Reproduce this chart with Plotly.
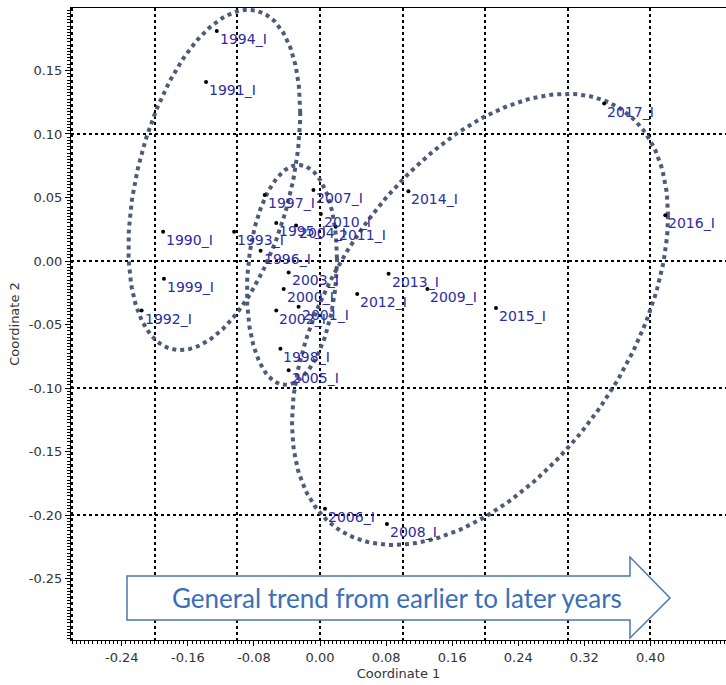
import numpy as np
import plotly.graph_objects as go

# ---- data ----
labels = ["1990_I", "1991_I", "1992_I", "1993_I", "1994_I", "1995_I", "1996_I", "1997_I",
          "1998_I", "1999_I", "2000_I", "2001_I", "2002_I", "2003_I", "2004_I", "2005_I",
          "2006_I", "2007_I", "2008_I", "2009_I", "2010_I", "2011_I", "2012_I", "2013_I",
          "2014_I", "2015_I", "2016_I", "2017_I"]
coord1 = [-0.190, -0.138, -0.216, -0.104, -0.125, -0.053, -0.072, -0.067,
          -0.048, -0.189, -0.044, -0.026, -0.053, -0.038, -0.029, -0.038,
          0.006, -0.008, 0.081, 0.130, 0.001, 0.019, 0.045, 0.083,
          0.107, 0.213, 0.418, 0.344]
coord2 = [0.023, 0.141, -0.039, 0.023, 0.181, 0.030, 0.008, 0.052,
          -0.069, -0.014, -0.022, -0.036, -0.039, -0.009, 0.028, -0.086,
          -0.195, 0.056, -0.207, -0.022, 0.037, 0.027, -0.026, -0.010,
          0.055, -0.037, 0.036, 0.124]

# ellipses: center x, center y, half-extent x, half-extent y, correlation
ell_cx = [-0.128, -0.034, 0.1937]
ell_cy = [0.0638, -0.011, -0.046]
ell_sx = [0.104, 0.0545, 0.2276]
ell_sy = [0.134, 0.0866, 0.1776]
ell_rho = [0.395, 0.15, 0.46]

x_ticks = [-0.24, -0.16, -0.08, 0.00, 0.08, 0.16, 0.24, 0.32, 0.40]
y_ticks = [-0.25, -0.20, -0.15, -0.10, -0.05, 0.00, 0.05, 0.10, 0.15]
x_range = [-0.3015, 0.4915]
y_range = [-0.2984, 0.1992]

arrow_text = "General trend from earlier to later years"

fig = go.Figure()

# ellipses
t = np.linspace(0, 2 * np.pi, 240)
for cx, cy, sx, sy, rho in zip(ell_cx, ell_cy, ell_sx, ell_sy, ell_rho):
    ex = cx + sx * np.cos(t)
    ey = cy + sy * (rho * np.cos(t) + np.sqrt(1 - rho ** 2) * np.sin(t))
    fig.add_trace(go.Scatter(x=ex, y=ey, mode="lines",
                             line=dict(color="#4d5b78", width=4, dash="dot"),
                             hoverinfo="skip", showlegend=False))

# points
fig.add_trace(go.Scatter(x=coord1, y=coord2, mode="markers",
                         marker=dict(color="black", size=4),
                         showlegend=False))

# invisible trace on overlay axes (grid at 0.1 steps)
fig.add_trace(go.Scatter(x=[x_range[0]], y=[y_range[0]], xaxis="x2", yaxis="y2",
                         mode="markers", marker=dict(opacity=0), hoverinfo="skip",
                         showlegend=False))

for lab, xv, yv in zip(labels, coord1, coord2):
    fig.add_annotation(x=xv, y=yv, text=lab, showarrow=False,
                       xanchor="left", yanchor="top", xshift=1, yshift=2,
                       font=dict(family="DejaVu Sans", size=14, color="#2b2ba3"))

# block arrow (paper coords)
def px(xp):
    return (xp - 71) / 655.0

def py(yp):
    return (640 - yp) / 632.0

path = "M {} {} L {} {} L {} {} L {} {} L {} {} L {} {} L {} {} Z".format(
    px(127), py(576), px(630), py(576), px(630), py(557), px(670), py(598),
    px(630), py(638), px(630), py(620), px(127), py(620))
fig.add_shape(type="path", path=path, xref="paper", yref="paper",
              line=dict(color="#4a78b0", width=1.5), fillcolor="white", layer="above")
fig.add_annotation(x=px(397), y=py(598), xref="paper", yref="paper", text=arrow_text,
                   showarrow=False, xanchor="center", yanchor="middle",
                   font=dict(family="Lato, Open Sans", size=26, color="#3a6fb8"))

tickfont = dict(family="DejaVu Sans", size=13, color="#333333")
titlefont = dict(family="DejaVu Sans", size=13, color="#333333")
fig.update_layout(
    width=726, height=685,
    margin=dict(l=71, r=0, t=8, b=45),
    paper_bgcolor="white", plot_bgcolor="white",
    showlegend=False,
    xaxis=dict(range=x_range, tickvals=x_ticks, ticktext=["%.2f" % v for v in x_ticks],
               showgrid=False, zeroline=False, showline=True, linecolor="black",
               linewidth=1, mirror=True, ticks="outside", ticklen=5, tickcolor="black",
               tickfont=tickfont, automargin=False,
               minor=dict(dtick=0.005, tick0=0, ticks="outside", ticklen=3,
                          tickcolor="black", showgrid=False),
               title=dict(text="Coordinate 1", font=titlefont, standoff=5)),
    yaxis=dict(range=y_range, tickvals=y_ticks, ticktext=["%.2f" % v for v in y_ticks],
               showgrid=False, zeroline=False, showline=True, linecolor="black",
               linewidth=1, ticks="outside", ticklen=5, tickcolor="black",
               tickfont=tickfont, automargin=False,
               minor=dict(dtick=0.0025, tick0=0, ticks="outside", ticklen=3,
                          tickcolor="black", showgrid=False),
               title=dict(text="Coordinate 2", font=titlefont, standoff=6)),
    xaxis2=dict(range=x_range, overlaying="x", dtick=0.1, tick0=0, showgrid=True,
                gridcolor="black", gridwidth=2, griddash="dot", showticklabels=False,
                ticks="", zeroline=False, showline=False, automargin=False),
    yaxis2=dict(range=y_range, overlaying="y", dtick=0.1, tick0=0, showgrid=True,
                gridcolor="black", gridwidth=2, griddash="dot", showticklabels=False,
                ticks="", zeroline=False, showline=False, automargin=False),
)

fig.write_html("out.html", config={"displayModeBar": False},
               post_script="document.body.style.margin='0px';document.body.style.overflow='hidden';")
